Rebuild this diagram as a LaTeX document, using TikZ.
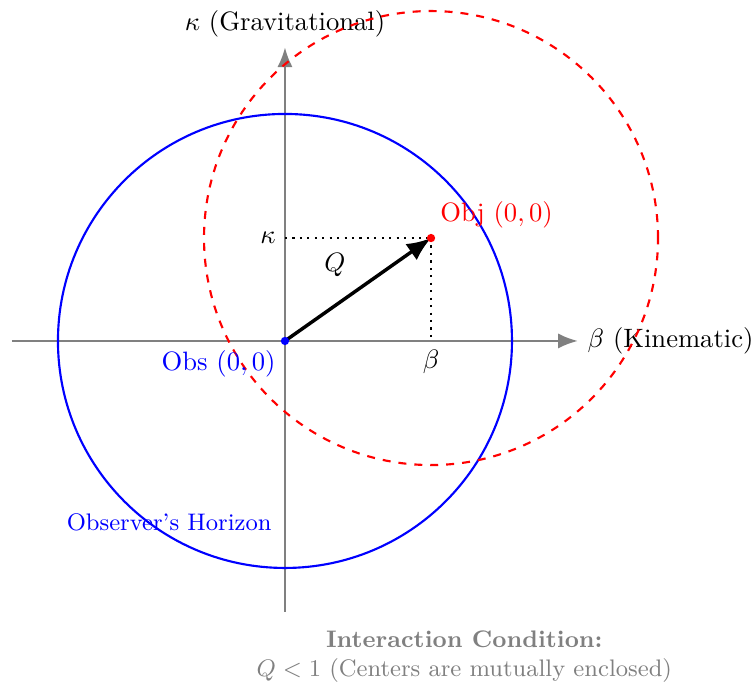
\documentclass[tikz,border=0pt]{standalone}
\usetikzlibrary{arrows.meta}
\begin{document}
\begin{tikzpicture}
\tikzset{
  axis/.style={gray, thick, -{Latex[length=2.6mm,width=2mm]}},
  horizon/.style={thick},
  guide/.style={thick, dotted},
}
\useasboundingbox (-3.766,-4.533) rectangle (6.185,4.506);
% axes
\coordinate (xs) at (-3.61,0);
\coordinate (xe) at (3.87,0);
\coordinate (ys) at (0,-3.58);
\coordinate (ye) at (0,3.88);
\draw[axis] (xs) -- (xe) node[right, black] (xl) {$\beta$ (Kinematic)};
\draw[axis] (ys) -- (ye) node[above, black] (yl) {$\kappa$ (Gravitational)};
% points
\coordinate (O) at (0,0);
\coordinate (P) at (1.93,1.36);
\coordinate (Pk) at (0,1.36);
\coordinate (Pb) at (1.93,0);
% circles
\draw[horizon, blue] (O) circle (3);
\draw[horizon, red, dashed] (P) circle (3);
% guides
\draw[guide] (Pk) -- (P);
\draw[guide] (P) -- (Pb);
\node[left] (kl) at (Pk) {$\kappa$};
\node[below] (bl) at (Pb) {$\beta$};
% vector
\draw[line width=1.3pt, -{Latex[length=3.2mm,width=2.6mm]}] (O) -- (P);
\node (ql) at (0.66,1.0) {$Q$};
% dots
\fill[blue] (O) circle (0.055);
\fill[red] (P) circle (0.055);
\node[below left, blue] (obs) at (O) {Obs $(0,0)$};
\node[above right, red] (obj) at (P) {Obj $(0,0)$};
\node[blue, font=\small] (hz) at (-1.53,-2.40) {Observer's Horizon};
\node[gray, align=center, font=\small] (cond) at (2.37,-4.17) {\textbf{Interaction Condition:}\\$Q<1$ (Centers are mutually enclosed)};
\end{tikzpicture}
\end{document}
